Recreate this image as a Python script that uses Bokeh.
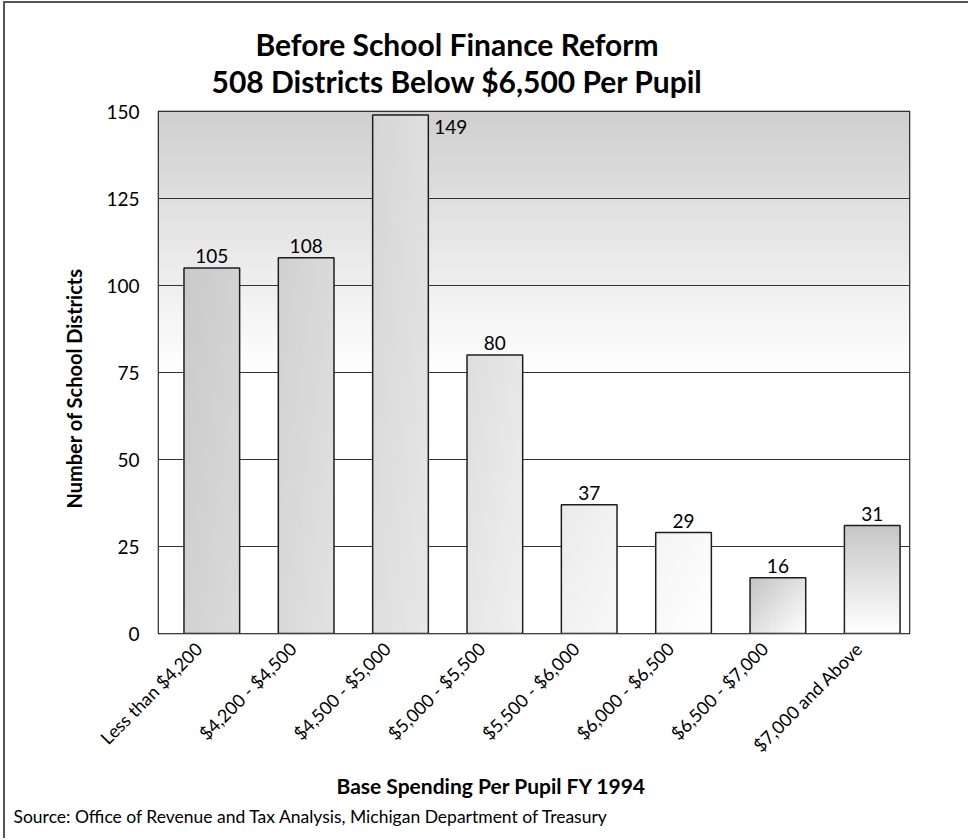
import math
import numpy as np
from bokeh.plotting import figure
from bokeh.models import Range1d, FixedTicker, Title, ColumnDataSource
from bokeh.core.properties import value
from bokeh.embed import file_html
from bokeh.resources import INLINE

# ---------------- data ----------------
categories = [
    "Less than $4,200",
    "$4,200 - $4,500",
    "$4,500 - $5,000",
    "$5,000 - $5,500",
    "$5,500 - $6,000",
    "$6,000 - $6,500",
    "$6,500 - $7,000",
    "$7,000 and Above",
]
counts = [105, 108, 149, 80, 37, 29, 16, 31]
y_ticks = [0, 25, 50, 75, 100, 125, 150]
title_lines = ["Before School Finance Reform", "508 Districts Below $6,500 Per Pupil"]
x_title = "Base Spending Per Pupil FY 1994"
y_title = "Number of School Districts"
source_note = "Source: Office of Revenue and Tax Analysis, Michigan Department of Treasury"

# ---------------- style ----------------
bar_shade_start = [202, 209, 214, 222, 235, 244, 196, 198]   # top-left grey level
bar_shade_end = [218, 226, 231, 240, 248, 255, 255, 255]     # bottom-right grey level
bar_shade_diag = [True, True, True, True, True, True, True, False]
FONT = "Lato"
TITLE_FONT = "Lato"
tick_shift = -0.14   # category label anchor slightly left of bar centre

xs = list(range(len(categories)))
bar_w = 0.59
x_start, x_end = -0.565, len(categories) - 1 + 0.395
y_start, y_end = 0, 150


def rgba(g):
    g = np.clip(np.round(g), 0, 255).astype(np.uint32)
    return (np.uint32(255) << 24) | (g << 16) | (g << 8) | g


W, H = 965, 837
p = figure(
    width=W, height=H,
    x_range=Range1d(x_start, x_end), y_range=Range1d(y_start, y_end),
    output_backend="svg", toolbar_location=None,
    min_border_left=153, min_border_right=W - 153 - 751,
    min_border_top=108, min_border_bottom=H - 108 - 522,
    background_fill_color="white", border_fill_color="white",
    styles={"border-left": "2px solid #555555", "border-top": "2px solid #555555",
            "margin-left": "3px", "margin-top": "1px"},
)
p.outline_line_color = "black"
p.outline_line_width = 1.5

# background gradient: grey at top fading to white at the middle
rows = 300
yy = np.linspace(y_start, y_end, rows)
mid = (y_start + y_end) / 2
g = np.where(yy <= mid, 255.0, 255.0 - (yy - mid) / (y_end - mid) * 48.0)
bg = np.repeat(rgba(g)[:, None], 2, axis=1)
p.image_rgba(image=[bg], x=x_start, y=y_start, dw=x_end - x_start, dh=y_end - y_start,
             level="image")

# bar gradient images
n, m = 60, 24
r = np.arange(n)[:, None]
c = np.arange(m)[None, :]
down = 1.0 - r / (n - 1)
u = c / (m - 1)
imgs = []
for s, e, d in zip(bar_shade_start, bar_shade_end, bar_shade_diag):
    t = (u + down) / 2.0 if d else down + 0 * u
    imgs.append(rgba(s + (e - s) * t))
p.image_rgba(image=imgs, x=[x - bar_w / 2 for x in xs], y=[0] * len(xs),
             dw=[bar_w] * len(xs), dh=counts)

src = ColumnDataSource(dict(x=xs, top=counts))
p.vbar(x="x", top="top", width=bar_w, source=src, fill_color=None,
       line_color="#1e1e1e", line_width=1.5)

# value labels
side = [v + 10 > y_end for v in counts]
lab = ColumnDataSource(dict(
    x=[x + (bar_w / 2 if s else 0) for x, s in zip(xs, side)],
    y=counts,
    text=[str(v) for v in counts],
    align=["left" if s else "center" for s in side],
    xoff=[6 if s else 0 for s in side],
    yoff=[12 if s else -12 for s in side],
))
p.text(x="x", y="y", text="text", source=lab, text_align="align",
       text_baseline="alphabetic", x_offset="xoff", y_offset="yoff",
       text_font=value(FONT), text_font_size="19px", text_color="black")

# axes
p.xgrid.visible = False
p.ygrid.ticker = FixedTicker(ticks=y_ticks)
p.ygrid.grid_line_color = "#333333"
p.ygrid.grid_line_width = 1

p.yaxis.ticker = FixedTicker(ticks=y_ticks)
p.yaxis.axis_line_color = None
p.yaxis.major_tick_line_color = None
p.yaxis.minor_tick_line_color = None
p.yaxis.major_label_standoff = 13
p.yaxis.major_label_text_font = FONT
p.yaxis.major_label_text_font_size = "19px"
p.yaxis.major_label_text_color = "black"

tick_pos = [x + tick_shift for x in xs]
p.xaxis.ticker = FixedTicker(ticks=tick_pos)
p.xaxis.major_label_overrides = {t: cat for t, cat in zip(tick_pos, categories)}
p.xaxis.major_label_orientation = math.pi / 4
p.xaxis.axis_line_color = None
p.xaxis.major_tick_line_color = None
p.xaxis.minor_tick_line_color = None
p.xaxis.major_label_standoff = 6
p.xaxis.major_label_text_font = FONT
p.xaxis.major_label_text_font_size = "18px"
p.xaxis.major_label_text_color = "black"

# titles (first added above sits nearest the frame)
p.add_layout(Title(text=title_lines[1], align="left", offset=53, standoff=26,
                   text_font=TITLE_FONT, text_font_style="bold", text_font_size="30px",
                   text_color="black"), "above")
p.add_layout(Title(text=title_lines[0], align="left", offset=97, standoff=-28,
                   text_font=TITLE_FONT, text_font_style="bold", text_font_size="30px",
                   text_color="black"), "above")
p.add_layout(Title(text=y_title, align="left", offset=125, standoff=36,
                   text_font=FONT, text_font_style="bold", text_font_size="20px",
                   text_color="black"), "left")
p.add_layout(Title(text=x_title, align="left", offset=178, standoff=8,
                   text_font=FONT, text_font_style="bold", text_font_size="21px",
                   text_color="black"), "below")
p.add_layout(Title(text=source_note, align="left", offset=-145, standoff=5,
                   text_font=FONT, text_font_style="normal", text_font_size="17.5px",
                   text_color="black"), "below")

open("out.html", "w").write(file_html(p, INLINE))
